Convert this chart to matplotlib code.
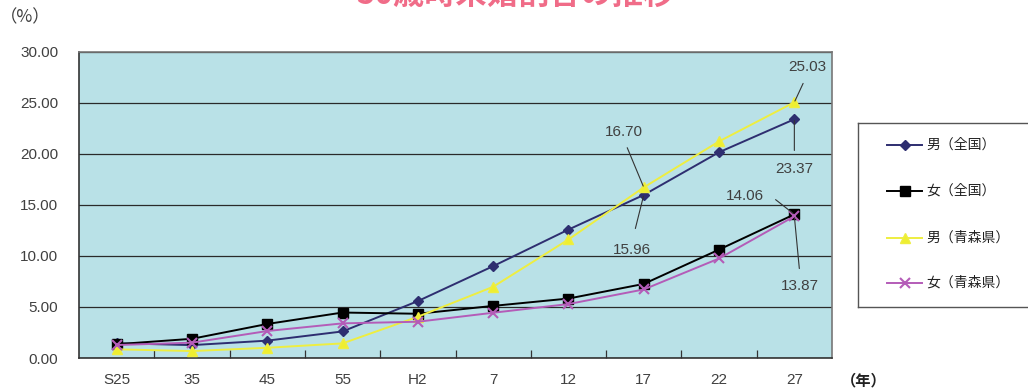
import matplotlib
matplotlib.use("Agg")
import matplotlib.pyplot as plt

# ---- data ----
categories = ["S25", "35", "45", "55", "H2", "7", "12", "17", "22", "27"]
male_national = [1.45, 1.26, 1.70, 2.60, 5.57, 8.99, 12.57, 15.96, 20.14, 23.37]
female_national = [1.35, 1.88, 3.33, 4.45, 4.33, 5.10, 5.82, 7.25, 10.61, 14.06]
male_aomori = [0.85, 0.68, 1.00, 1.43, 4.04, 6.97, 11.60, 16.70, 21.20, 25.03]
female_aomori = [1.27, 1.50, 2.64, 3.39, 3.55, 4.43, 5.28, 6.71, 9.74, 13.87]
series_labels = ["男（全国）", "女（全国）", "男（青森県）", "女（青森県）"]
yticks = [0, 5, 10, 15, 20, 25, 30]
title = "50歳時未婚割合の推移"

W, H = 1028, 392
fig = plt.figure(figsize=(W / 100, H / 100), dpi=100)
fig.patch.set_facecolor("white")

JP = ["Noto Sans CJK JP", "DejaVu Sans"]
NUM = "Liberation Sans"
TXT = "#404040"


def fx(px):
    return px / W


def fy(py):
    return 1 - py / H


L, R, T, B = 79, 832, 51.5, 358
ax = fig.add_axes([fx(L), fy(B), fx(R) - fx(L), (B - T) / H])
ax.set_facecolor("#b9e1e7")

x = list(range(len(categories)))
styles = [
    dict(data=male_national, color="#2e2e70", marker="D", ms=5.5, mfc="#2e2e70"),
    dict(data=female_national, color="#000000", marker="s", ms=7, mfc="#000000"),
    dict(data=male_aomori, color="#eeee40", marker="^", ms=7.5, mfc="#eeee30"),
    dict(data=female_aomori, color="#b45cb8", marker="x", ms=7, mfc="#b45cb8"),
]
draw_order = [2, 3, 0, 1]
for i in draw_order:
    s = styles[i]
    ax.plot(x, s["data"], color=s["color"], lw=1.4, marker=s["marker"],
            ms=s["ms"], mfc=s["mfc"], mec=s["color"], mew=1.5 if s["marker"] == "x" else 1,
            zorder=3 + i, clip_on=False)

ax.set_xlim(-0.5, len(categories) - 0.5)
ax.set_ylim(0, 30)
ax.set_yticks(yticks)
ax.set_yticklabels([f"{v:.2f}" for v in yticks], fontfamily=NUM, fontsize=11, color=TXT)
ax.yaxis.grid(True, color="#2a2a2a", lw=0.9)
ax.set_axisbelow(True)
ax.tick_params(axis="y", length=0, pad=15)
ax.set_xticks(x)
ax.set_xticklabels(categories, fontfamily=NUM, fontsize=11, color=TXT)
ax.set_xticks([i + 0.5 for i in range(len(categories) - 1)], minor=True)
ax.tick_params(axis="x", which="major", length=0, pad=11)
ax.tick_params(axis="x", which="minor", direction="in", length=6, width=0.9, color="#333333")
for side in ["left", "bottom"]:
    ax.spines[side].set_color("#333333")
    ax.spines[side].set_linewidth(1.2)
for side in ["top", "right"]:
    ax.spines[side].set_color("#777777")
    ax.spines[side].set_linewidth(1.2)

# ---- value labels with leaders ----
ann = [
    # (x index, value, dx px, dy px (up positive), relpos, shrinkA px, conn)
    (9, male_aomori[9], 13, 35, (0.5, 0.0), 7, "arc3"),
    (7, male_aomori[7], -20, 55, (0.5, 0.0), 6, "arc3"),
    (7, male_national[7], -12, -55, (0.5, 1.0), 12, "arc3"),
    (9, male_national[9], 0, -50, (0.5, 1.0), 9, "arc3"),
    (9, female_national[9], -49, 18, (1.0, 0.5), 9, "arc,angleA=0,armA=7,angleB=0,armB=0,rad=0"),
    (9, female_aomori[9], 6, -70, (0.5, 1.0), 8, "arc3"),
]
for xi, v, dx, dy, rp, sa, conn in ann:
    ax.annotate(f"{v:.2f}", xy=(xi, v), xytext=(dx, dy), textcoords="offset pixels",
                ha="center", va="center", fontfamily=NUM, fontsize=11, color=TXT,
                arrowprops=dict(arrowstyle="-", color="#333333", lw=0.8, relpos=rp,
                                shrinkA=sa * 0.72, shrinkB=1, connectionstyle=conn),
                zorder=10)

# ---- axis unit labels ----
fig.text(fx(25), fy(17), "（%）", fontfamily=JP, fontsize=12.5, color=TXT, ha="center", va="center")
fig.text(fx(864), fy(380), "（年）", fontfamily=JP, fontsize=11, color="#222222",
         ha="center", va="center", fontweight="bold")

# ---- title (cut at top, as in the reference) ----
fig.text(fx(515), fy(3.5), title, fontfamily=JP, fontsize=22.5, color="#f06c88",
         ha="center", va="baseline", fontweight="bold")

# ---- legend ----
lx0, lx1, ly0, ly1 = 858, 1040, 123, 307
lax = fig.add_axes([fx(lx0), fy(ly1), (lx1 - lx0) / W, (ly1 - ly0) / H])
lax.set_xlim(lx0, lx1)
lax.set_ylim(ly1, ly0)
lax.set_xticks([])
lax.set_yticks([])
lax.patch.set_facecolor("white")
for sp in lax.spines.values():
    sp.set_color("#555555")
    sp.set_linewidth(1.0)
rows = [145, 191, 238, 283]
for i, yy in enumerate(rows):
    s = styles[i]
    lax.plot([887, 922], [yy, yy], color=s["color"], lw=1.4)
    lax.plot([904.5], [yy], marker=s["marker"], ms=s["ms"], color=s["color"], mfc=s["mfc"],
             mec=s["color"], mew=1.5 if s["marker"] == "x" else 1, ls="none")
    lax.text(926, yy, series_labels[i], fontfamily=JP, fontsize=10, color="#222222",
             ha="left", va="center")

fig.savefig("out.png", dpi=100)
